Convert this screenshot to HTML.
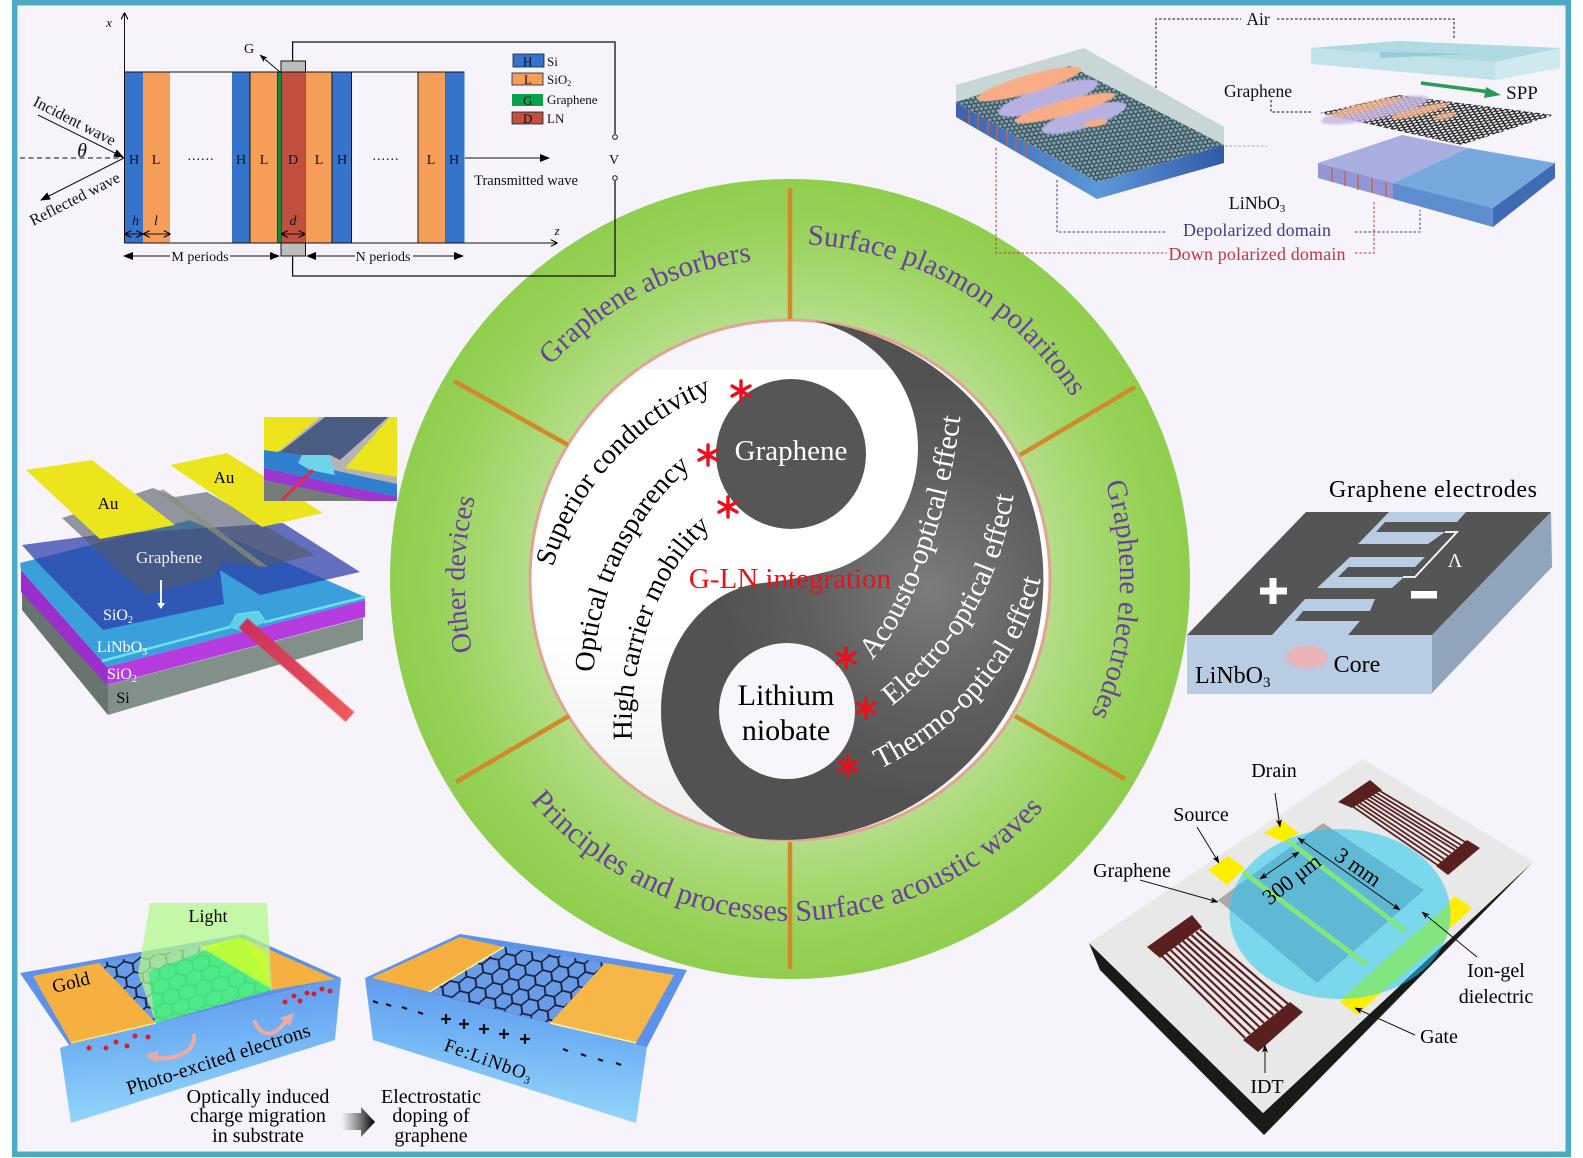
<!DOCTYPE html>
<html><head><meta charset="utf-8"><style>
html,body{margin:0;padding:0;background:#fff}
svg{display:block}
text{font-family:"Liberation Serif","Noto Serif CJK SC",serif}
</style></head><body>
<svg width="1583" height="1158" viewBox="0 0 1583 1158" xmlns="http://www.w3.org/2000/svg">
<defs>
<radialGradient id="ring" gradientUnits="userSpaceOnUse" cx="790" cy="580" r="400"><stop offset=".62" stop-color="#b8df8e"/><stop offset=".88" stop-color="#98d25a"/><stop offset="1" stop-color="#8fce4e"/></radialGradient>
<radialGradient id="dark" gradientUnits="userSpaceOnUse" cx="930" cy="590" r="210"><stop offset="0" stop-color="#7c7c7c"/><stop offset=".6" stop-color="#5e5e5e"/><stop offset="1" stop-color="#525252"/></radialGradient>
<linearGradient id="inner" gradientUnits="userSpaceOnUse" x1="0" y1="321" x2="0" y2="839"><stop offset="0" stop-color="#f7f3fa"/><stop offset=".093" stop-color="#f7f3fa"/><stop offset=".094" stop-color="#fff"/><stop offset=".6" stop-color="#fff"/><stop offset="1" stop-color="#eeeeee"/></linearGradient>
<linearGradient id="face1" x1="0" y1="0" x2=".15" y2="1"><stop offset="0" stop-color="#5d92ea"/><stop offset=".45" stop-color="#6fb0f4"/><stop offset="1" stop-color="#93d6fb"/></linearGradient>
<linearGradient id="face2" x1="1" y1="0" x2=".85" y2="1"><stop offset="0" stop-color="#5d92ea"/><stop offset=".45" stop-color="#6fb0f4"/><stop offset="1" stop-color="#93d6fb"/></linearGradient>
<linearGradient id="blk" x1="0" y1="0" x2="1" y2="0"><stop offset="0" stop-color="#f6f3fa"/><stop offset=".5" stop-color="#888"/><stop offset="1" stop-color="#000"/></linearGradient>
<linearGradient id="beam" gradientUnits="userSpaceOnUse" x1="243" y1="623" x2="353" y2="717"><stop offset="0" stop-color="#c93058"/><stop offset="1" stop-color="#f05a5a"/></linearGradient>
<linearGradient id="bfront" x1="0" y1="0" x2="1" y2="0"><stop offset="0" stop-color="#3e62ae"/><stop offset="1" stop-color="#5b98d8"/></linearGradient>
<linearGradient id="bright" x1="0" y1="0" x2="1" y2="0"><stop offset="0" stop-color="#5f98da"/><stop offset="1" stop-color="#2f5aa6"/></linearGradient>
<pattern id="hexD" width="27" height="15.6" patternUnits="userSpaceOnUse" patternTransform="translate(100 940) rotate(13) skewX(-12) scale(1 1)"><rect width="27" height="15.6" fill="#6a9be6"/><path d="M0,7.8 L4.5,0 H13.5 L18,7.8 L13.5,15.6 H4.5 Z M18,7.8 H27" fill="none" stroke="#131c38" stroke-width="1.7"/></pattern>
<pattern id="hexB" width="8" height="4.6" patternUnits="userSpaceOnUse" patternTransform="rotate(22)"><rect width="8" height="4.6" fill="#7c9ca6"/><path d="M0,2.3 L1.3,0 H4 L5.3,2.3 L4,4.6 H1.3 Z M5.3,2.3 H8" fill="none" stroke="#2f4450" stroke-width="1.1"/></pattern>
<pattern id="hexW" width="7" height="4" patternUnits="userSpaceOnUse" patternTransform="rotate(14) skewX(-35)"><rect width="7" height="4" fill="#e4e4e8"/><path d="M0,2 L1.2,0 H3.5 L4.7,2 L3.5,4 H1.2 Z M4.7,2 H7" fill="none" stroke="#111" stroke-width="1.2"/></pattern>
<marker id="ah" viewBox="0 0 10 8" refX="9" refY="4" markerWidth="10" markerHeight="8" markerUnits="userSpaceOnUse" orient="auto-start-reverse"><path d="M0,0 L10,4 L0,8 Z" fill="#000"/></marker>
<marker id="ao" viewBox="0 0 8 8" refX="7.5" refY="4" markerWidth="7" markerHeight="7" markerUnits="userSpaceOnUse" orient="auto-start-reverse"><path d="M0,0 L8,4 L0,8" fill="none" stroke="#000" stroke-width="1.3"/></marker>
<marker id="as" viewBox="0 0 8 6" refX="7.5" refY="3" markerWidth="8" markerHeight="6" markerUnits="userSpaceOnUse" orient="auto-start-reverse"><path d="M0,0 L8,3 L0,6 L2,3 Z" fill="#000"/></marker>
<filter id="b1"><feGaussianBlur stdDeviation="1"/></filter>
<filter id="b2"><feGaussianBlur stdDeviation=".6"/></filter>
<path id="cwA" d="M 508,417 A 326 326 0 0 1 1072,417" fill="none"/>
<path id="cwG" d="M 512,419.500 A 321 321 0 0 1 1068,419.500" fill="none"/>
<path id="cwS" d="M 499,412 A 336 336 0 0 1 1081,412" fill="none"/>
<path id="cwE" d="M 504.2,415 A 330 330 0 0 1 1075.8,415" fill="none"/>
<path id="ccw" d="M 511,776 A 341 341 0 0 0 1069,776" fill="none"/>
<path id="p1" d="M 553,567 C 575,490 640,420 712,393" fill="none"/>
<path id="p2" d="M 594,672 C 595,590 640,510 688,470" fill="none"/>
<path id="p3" d="M 632,740 C 628,660 660,570 708,530" fill="none"/>
<path id="p4" d="M 872,660 C 910,620 950,520 962,402" fill="none"/>
<path id="p5" d="M 892,706 C 950,660 1005,590 1016,475" fill="none"/>
<path id="p6" d="M 880,769 C 960,730 1030,660 1045,556" fill="none"/>
<g id="ast" stroke="#e8101c" stroke-width="3.4" stroke-linecap="round"><path d="M0,-10 V10 M-9,-5 L9,5 M-9,5 L9,-5"/></g>
<clipPath id="inset"><rect x="264" y="417" width="133" height="84"/></clipPath>
<clipPath id="circ"><ellipse cx="1340" cy="914" rx="110.5" ry="85"/></clipPath>
</defs>

<rect width="1583" height="1158" fill="#fff"/>
<rect x="14.7" y="2.7" width="1553.6" height="1151.6" fill="#f6f3fa" stroke="#4eaac4" stroke-width="5.5"/>

<!-- central ring -->
<circle cx="790" cy="579" r="400" fill="url(#ring)"/>
<circle cx="790" cy="580" r="260" fill="url(#inner)" stroke="#e2a392" stroke-width="3"/>
<path d="M 814,321 A 260 260 0 1 1 752,838 C 700,825 661,775 661,711 C 661,645 705,588 763,583 C 790,580 814,575 830,571 C 880,556 918,510 918,447 C 918,385 875,335 814,321 Z" fill="url(#dark)"/>
<circle cx="791" cy="454" r="75" fill="#565656"/>
<circle cx="787" cy="711" r="68" fill="#f8f5fb"/>
<g stroke="#d08a2a" stroke-width="4.5" fill="none">
<path d="M790,188 V319"/><path d="M790,842 V969"/><path d="M1135,387 L1020,455"/><path d="M454,381 L568,445"/><path d="M456,782 L569,716"/><path d="M1125,779 L1015,716"/>
</g>
<g font-size="29" fill="#6b3f9c">
<g transform="rotate(-27.500 790 580)"><text text-anchor="middle"><textPath href="#cwG" startOffset="50%">Graphene absorbers</textPath></text></g>
<g transform="rotate(30 790 580)"><text text-anchor="middle"><textPath href="#cwS" startOffset="50%">Surface plasmon polaritons</textPath></text></g>
<g transform="rotate(93.500 790 580)"><text text-anchor="middle"><textPath href="#cwE" startOffset="50%">Graphene electrodes</textPath></text></g>
<g transform="rotate(-89 790 580)"><text text-anchor="middle" font-size="28"><textPath href="#cwA" startOffset="50%">Other devices</textPath></text></g>
<g transform="rotate(-24.500 790 580)" font-size="30"><text text-anchor="middle"><textPath href="#ccw" startOffset="50%">Surface acoustic waves</textPath></text></g>
<g transform="rotate(25 790 580)" font-size="30"><text text-anchor="middle"><textPath href="#ccw" startOffset="50%">Principles and processes</textPath></text></g>
</g>
<g font-size="28" fill="#000">
<text><textPath href="#p1">Superior conductivity</textPath></text>
<text><textPath href="#p2">Optical transparency</textPath></text>
<text font-size="27.500"><textPath href="#p3">High carrier mobility</textPath></text>
</g>
<g font-size="29.500" fill="#fff">
<text><textPath href="#p4">Acousto-optical effect</textPath></text>
<text><textPath href="#p5">Electro-optical effect</textPath></text>
<text><textPath href="#p6">Thermo-optical effect</textPath></text>
</g>
<text x="791" y="460" font-size="29" fill="#fff" text-anchor="middle">Graphene</text>
<text x="786" y="705" font-size="30" text-anchor="middle">Lithium</text>
<text x="786" y="740" font-size="30" text-anchor="middle">niobate</text>
<text x="790" y="588" font-size="29" fill="#ee0f1a" text-anchor="middle">G-LN integration</text>
<use href="#ast" x="741" y="391"/><use href="#ast" x="708" y="455"/><use href="#ast" x="728" y="507"/>
<use href="#ast" x="846" y="658"/><use href="#ast" x="866" y="708"/><use href="#ast" x="848" y="766"/>

<!-- Panel A -->
<g>
<g stroke="#111" stroke-width="1">
<rect x="124.500" y="72" width="18.500" height="171" fill="#3674cc" stroke="none"/>
<rect x="143" y="72" width="27" height="171" fill="#f49e5a" stroke="none"/>
<rect x="232" y="72" width="18" height="171" fill="#3674cc" stroke="none"/>
<rect x="250" y="72" width="27.500" height="171" fill="#f49e5a"/>
<rect x="281" y="61" width="24.500" height="195" fill="#bdbdbd"/>
<rect x="281" y="72" width="24.500" height="171" fill="#c25040"/>
<rect x="277.500" y="72" width="3.500" height="171" fill="#0a8a3c" stroke="none"/>
<rect x="305.500" y="72" width="26.500" height="171" fill="#f49e5a" stroke="none"/>
<rect x="332" y="72" width="19.500" height="171" fill="#3674cc"/>
<rect x="418" y="72" width="28" height="171" fill="#f49e5a"/>
<rect x="446" y="72" width="18.500" height="171" fill="#3674cc" stroke="none"/>
</g>
<path d="M124.500,72 H464.500" stroke="#111" stroke-width="1" fill="none"/>
<path d="M124.500,243 V13" stroke="#111" stroke-width="1" fill="none" marker-end="url(#ao)"/>
<path d="M124.500,243 H557" stroke="#111" stroke-width="1" fill="none" marker-end="url(#ao)"/>
<path d="M292.600,61 V42 H615 V134" stroke="#111" stroke-width="1.300" fill="none"/>
<path d="M292.600,256 V276 H615 V181" stroke="#111" stroke-width="1.300" fill="none"/>
<circle cx="615" cy="137" r="2.300" fill="#fff" stroke="#111"/><circle cx="615" cy="178" r="2.300" fill="#fff" stroke="#111"/>
<path d="M20,158 H124" stroke="#111" stroke-dasharray="5 3.500" fill="none"/>
<path d="M38,115 L123,157" stroke="#111" fill="none" marker-end="url(#ah)"/>
<path d="M124,158 L41,200" stroke="#111" fill="none" marker-end="url(#ah)"/>
<path d="M465,158 H549" stroke="#111" fill="none" marker-end="url(#ah)"/>
<path d="M280,72 L260,55" stroke="#111" fill="none" marker-end="url(#as)"/>
<g stroke="#111" fill="none" marker-start="url(#ao)" marker-end="url(#ao)"><path d="M125,234 H142.500"/><path d="M143.500,234 H170"/><path d="M281.500,234 H305"/></g>
<g stroke="#111" fill="none">
<path d="M170,256 H124" marker-end="url(#ah)"/><path d="M230,256 H279" marker-end="url(#ah)"/>
<path d="M355,256 H307" marker-end="url(#ah)"/><path d="M413,256 H463" marker-end="url(#ah)"/>
</g>
<g font-size="14" fill="#111" text-anchor="middle">
<text x="134" y="164">H</text><text x="156" y="164">L</text><text x="241" y="164">H</text><text x="264" y="164">L</text><text x="293" y="164">D</text><text x="319" y="164">L</text><text x="342" y="164">H</text><text x="431" y="164">L</text><text x="454" y="164">H</text>
<text x="201" y="160" letter-spacing="1">......</text><text x="386" y="160" letter-spacing="1">......</text>
<text x="614" y="164">V</text>
<text x="526" y="185" font-size="14.500">Transmitted wave</text>
<text x="200" y="261">M periods</text><text x="383" y="261">N periods</text>
<text x="249" y="53">G</text>
<g font-style="italic"><text x="135.500" y="225">h</text><text x="156" y="225">l</text><text x="293" y="225">d</text><text x="109" y="27" font-size="13">x</text><text x="557" y="235" font-size="13">z</text><text x="82" y="157" font-size="20">θ</text></g>
</g>
<text transform="translate(32 105) rotate(27)" font-size="16" fill="#111">Incident wave</text>
<text transform="translate(33 226) rotate(-27)" font-size="16" fill="#111">Reflected wave</text>
<g stroke="#123" stroke-width=".8">
<rect x="513" y="54" width="31" height="13" fill="#3674cc"/><rect x="512" y="73" width="31" height="12" fill="#f49e5a"/>
<rect x="512" y="94" width="31" height="12" fill="#0aa04c" stroke="none"/><rect x="512" y="112" width="31" height="12" fill="#c25040"/>
</g>
<g font-size="13" fill="#111"><text x="523" y="66">H</text><text x="524" y="84">L</text><text x="523" y="105">G</text><text x="523" y="123">D</text>
<text x="547" y="66">Si</text><text x="547" y="84">SiO<tspan font-size="8" dy="2">2</tspan></text><text x="547" y="104">Graphene</text><text x="547" y="123">LN</text></g>
</g>

<!-- Panel B -->
<g>
<polygon points="956,85 1084,48 1224,127 1224,145 1097,182 956,102" fill="#c8d7d5"/>
<polygon points="956,102 1097,182 1097,199 956,117" fill="url(#bfront)"/>
<polygon points="1097,182 1224,145 1224,163 1097,199" fill="url(#bright)"/>
<polygon points="956,102 1070,66 1224,145 1097,182" fill="url(#hexB)"/>
<g filter="url(#b2)">
<ellipse cx="1048" cy="98" rx="52" ry="11" transform="rotate(-17 1048 98)" fill="#b8b0e0"/>
<ellipse cx="1084" cy="118" rx="44" ry="10" transform="rotate(-17 1084 118)" fill="#b8b0e0"/>
<ellipse cx="1029" cy="84" rx="54" ry="9" transform="rotate(-16 1029 84)" fill="#f8ad86"/>
<ellipse cx="1065" cy="108" rx="52" ry="7.500" transform="rotate(-15 1065 108)" fill="#f8ad86"/>
<ellipse cx="1096" cy="123" rx="12" ry="3.500" transform="rotate(-10 1096 123)" fill="#f8ad86"/>
</g>
<g stroke="#d0603a" stroke-width="1.300" fill="none"><path d="M969,109 V124"/><path d="M978,115 V130"/><path d="M988,120 V135"/><path d="M997,125 V140"/><path d="M1007,131 V146"/><path d="M1016,136 V151"/><path d="M1026,142 V157"/></g>

<polygon points="1311,48 1398,41 1560,48 1560,68 1495,80 1311,64" fill="#c0e2e8"/>
<polygon points="1311,48 1398,41 1560,48 1495,62" fill="#b0dae2"/>
<polygon points="1380,52 1470,54 1380,58" fill="#8fc0cc" opacity=".7"/>
<polygon points="1495,62 1560,48 1560,68 1495,80" fill="#cfeaee"/>
<path d="M1421,83 L1490,92" stroke="#2a9a55" stroke-width="3.500" fill="none"/>
<polygon points="1486,87 1501,95 1484,98" fill="#2a9a55"/>
<polygon points="1320,113 1398,95 1554,115 1461,145" fill="url(#hexW)"/>
<g filter="url(#b1)" opacity=".85">
<ellipse cx="1375" cy="110" rx="55" ry="9" fill="#c8b8e0" transform="rotate(-12 1375 110)"/>
<ellipse cx="1365" cy="107" rx="38" ry="4" fill="#f8b890" transform="rotate(-14 1365 107)"/>
<ellipse cx="1420" cy="111" rx="30" ry="4" fill="#f8b890" transform="rotate(-14 1420 111)"/>
<ellipse cx="1445" cy="116" rx="12" ry="3" fill="#f8b890" transform="rotate(-14 1445 116)"/>
</g>
<polygon points="1318,163 1402,135 1468,148 1393,183" fill="#a9aee0"/>
<polygon points="1468,148 1555,163 1493,208 1393,183" fill="#78a9de"/>
<polygon points="1318,163 1393,183 1393,199 1318,178" fill="#9296d4"/>
<polygon points="1393,183 1493,208 1493,227 1393,199" fill="#5f8ed0"/>
<polygon points="1493,208 1555,163 1555,178 1493,227" fill="#3f6ab4"/>
<g stroke="#d0603a" stroke-width="1.300" fill="none"><path d="M1332,167 V182"/><path d="M1345,171 V186"/><path d="M1358,175 V190"/><path d="M1372,178 V193"/><path d="M1386,182 V197"/></g>
<g fill="none" stroke-width="1" stroke-dasharray="2.500 2">
<path d="M1156,88 V19 H1241 M1277,19 H1454 V38" stroke="#111"/>
<path d="M1271,100 V112 H1313" stroke="#111"/>
<path d="M1225,146 H1267" stroke="#aaa"/>
<path d="M1057,180 V232 H1167 M1355,232 H1420 V210" stroke="#3c3f86"/>
<path d="M996,148 V253 H1167 M1355,253 H1374 V202" stroke="#c5353f"/>
</g>
<g font-size="17.500" fill="#111" text-anchor="middle">
<text x="1258" y="25">Air</text><text x="1258" y="97">Graphene</text><text x="1522" y="99" font-size="19">SPP</text>
<text x="1257" y="209" font-size="18">LiNbO<tspan font-size="11" dy="3">3</tspan></text>
<text x="1257" y="236" font-size="18" fill="#3c3f86" textLength="148">Depolarized domain</text>
<text x="1257" y="260" font-size="18" fill="#c5353f" textLength="177">Down polarized domain</text>
</g>
</g>

<!-- Panel C -->
<g>
<polygon points="22,592 108,685 108,715 22,610" fill="#68746f"/>
<polygon points="108,685 363,618 363,640 108,715" fill="#838f89"/>
<polygon points="21,570 107,667 107,685 21,592" fill="#9a2fcc"/>
<polygon points="107,667 365,600 365,617 107,685" fill="#b53de0"/>
<polygon points="20,563 190,520 365,597 365,600 107,667 21,570" fill="#3aa0dc"/>
<path d="M102,661 L230,627 L237,615 L258,612 L265,622 L365,597" stroke="#6ee0ee" stroke-width="2.500" fill="none"/>
<polygon points="228,627 237,615 258,612 265,622 245,632" fill="#60cfe8"/>
<polygon points="22,545 97,535 283,523 360,572 260,595 220,570 224,604 103,630 37,562" fill="#2a3aa8" opacity=".72"/>
<polygon points="62,518 153,488 175,497 207,492 315,555 260,567 223,562 213,577 145,595" fill="#525a68" opacity=".62"/>
<polygon points="158,492 163,489 268,567 258,566" fill="#8c8e7a" opacity=".7"/>
<polygon points="26,470 92,460 175,525 100,539" fill="#ece41c"/>
<polygon points="170,465 227,453 323,513 262,527" fill="#ece41c"/>
<path d="M243,623 L350,717" stroke="url(#beam)" stroke-width="13" fill="none" filter="url(#b2)"/>
<path d="M161,580 V604" stroke="#f4f4f8" stroke-width="2" fill="none"/><polygon points="157,603 165,603 161,609" fill="#fff"/>
<text x="108" y="509" font-size="17" text-anchor="middle">Au</text>
<text x="224" y="483" font-size="17" text-anchor="middle">Au</text>
<text x="169" y="563" font-size="17" fill="#eef" text-anchor="middle">Graphene</text>
<text x="118" y="620" font-size="16" fill="#fff" text-anchor="middle">SiO<tspan font-size="10" dy="3">2</tspan></text>
<text x="122" y="652" font-size="16" fill="#fff" text-anchor="middle">LiNbO<tspan font-size="10" dy="3">3</tspan></text>
<text x="122" y="679" font-size="16" fill="#fff" text-anchor="middle">SiO<tspan font-size="10" dy="3">2</tspan></text>
<text x="123" y="703" font-size="16" text-anchor="middle">Si</text>
<g clip-path="url(#inset)">
<rect x="264" y="417" width="133" height="84" fill="#b4b4b4"/>
<polygon points="264,480 367,498 380,501 264,501" fill="#767c78"/>
<polygon points="264,468 397,497 397,501 367,501 264,480" fill="#9b36d0"/>
<polygon points="264,450 300,452 333,470 397,484 397,497 264,468" fill="#3080d0"/>
<polygon points="298,463 302,455 330,455 335,475 310,470" fill="#6fd3ea"/>
<polygon points="280,452 325,417 388,417 340,460 330,455 302,455" fill="#4b5d82"/>
<polygon points="264,417 320,417 278,452 264,450" fill="#ece41c"/>
<polygon points="390,417 397,417 397,477 345,468" fill="#ece41c"/>
<path d="M313,470 L282,500" stroke="#d9304f" stroke-width="3" fill="none"/>
</g>
</g>

<!-- Panel D -->
<g>
<polygon points="20,973 243,934 341,978 69,1045" fill="#5d92ea"/>
<polygon points="60,1048 69,1045 341,978 335,1040 71,1123" fill="url(#face1)"/>
<polygon points="99,963 201,947 272,990 156,1023" fill="url(#hexD)"/>
<polygon points="33,976 99,963 156,1023 71,1043" fill="#f5b040"/>
<polygon points="201,947 241,937 335,979 272,990" fill="#f5b040"/>
<path d="M71,1043 L156,1023" stroke="#ffe680" stroke-width="1.500"/>
<path d="M201,947 L272,990" stroke="#fff" stroke-width="1.500"/>
<polygon points="150,903 267,903 272,990 156,1023 138,973" fill="#b4f88c" opacity=".75"/>
<polygon points="148,972 243,936 272,990 156,1023" fill="#18ee78" opacity=".6"/>
<polygon points="201,947 241,937 267,954 270,988" fill="#c8ff30" opacity=".85"/>
<text x="208" y="922" font-size="18" text-anchor="middle">Light</text>
<text transform="translate(54 993) rotate(-14)" font-size="19">Gold</text>
<g fill="#d8202c">
<circle cx="89" cy="1048" r="2.500"/><circle cx="106" cy="1048" r="2.500"/><circle cx="116" cy="1042" r="2.500"/><circle cx="127" cy="1046" r="2.500"/><circle cx="135" cy="1036" r="2.500"/><circle cx="148" cy="1037" r="2.500"/>
<circle cx="285" cy="1002" r="2.500"/><circle cx="294" cy="996" r="2.500"/><circle cx="300" cy="1001" r="2.500"/><circle cx="307" cy="993" r="2.500"/><circle cx="314" cy="994" r="2.500"/><circle cx="322" cy="989" r="2.500"/><circle cx="330" cy="991" r="2.500"/>
</g>
<path d="M194,1034 C196,1050 180,1060 155,1058" stroke="#eeaaa0" stroke-width="4" fill="none"/><polygon points="145,1055 158,1051 157,1063" fill="#eeaaa0"/>
<path d="M254,1020 C260,1035 272,1040 285,1022" stroke="#eeaaa0" stroke-width="4" fill="none"/><polygon points="294,1013 280,1018 290,1026" fill="#eeaaa0"/>
<text transform="translate(129 1095) rotate(-18)" font-size="20" textLength="192">Photo-excited electrons</text>

<polygon points="365,978 460,934 687,970 647,1047 636,1045" fill="#5d92ea"/>
<polygon points="365,978 636,1045 647,1047 636,1123 373,1040" fill="url(#face2)"/>
<polygon points="429,992 504,947 605,963 550,1023" fill="url(#hexD)"/>
<polygon points="371,978 460,937 504,947 429,992" fill="#f5b040"/>
<polygon points="605,963 674,975 636,1043 550,1023" fill="#f7b648"/>
<path d="M429,992 L504,947 M550,1023 L636,1043" stroke="#fff6b0" stroke-width="1.500"/>
<g stroke="#111" stroke-width="2.200" fill="none">
<path d="M373,1001 L378,1003 M386,1004 L391,1006 M402,1007 L407,1009 M418,1012 L423,1014"/>
<path d="M563,1049 L568,1051 M581,1054 L586,1056 M598,1059 L603,1061 M616,1063 L621,1065"/>
<path d="M441,1019 H451 M446,1014 V1024 M459,1024 H469 M464,1019 V1029 M479,1029 H489 M484,1024 V1034 M499,1034 H509 M504,1029 V1039 M520,1039 H530 M525,1034 V1044"/>
</g>
<text transform="translate(443 1050) rotate(20)" font-size="19" textLength="92">Fe:LiNbO<tspan font-size="11" dy="3">3</tspan></text>
<g font-size="20" text-anchor="middle">
<text x="258" y="1103">Optically induced</text><text x="258" y="1122">charge migration</text><text x="258" y="1142">in substrate</text>
<text x="431" y="1103">Electrostatic</text><text x="431" y="1122">doping of</text><text x="431" y="1142">graphene</text>
</g>
<polygon points="342,1113 361,1113 361,1107 375,1122 361,1137 361,1130 342,1130" fill="url(#blk)"/>
</g>

<!-- Panel E -->
<g>
<polygon points="1306,512 1551,512 1432,635 1187,635" fill="#555"/>
<rect x="1187" y="635" width="245" height="59" fill="#b8cce4"/>
<polygon points="1432,635 1551,512 1552,567 1432,693" fill="#90a4bc"/>
<g fill="#b8cce4">
<polygon points="1389,512 1466,512 1457,522 1385,522 1376,532 1445,532 1428,544 1358,544"/>
<polygon points="1350,557 1425,557 1415,567 1348,567 1338,577 1404,577 1392,588 1317,588"/>
<polygon points="1305,599 1375,599 1370,611 1303,611 1295,621 1360,621 1348,635 1272,635"/>
</g>
<path d="M1403,577 H1415 L1457,532 H1445" stroke="#fff" stroke-width="1.800" fill="none"/>
<text x="1455" y="567" font-size="20" fill="#fff" text-anchor="middle">Λ</text>
<path d="M1260,591 H1287 M1273,578 V604" stroke="#fff" stroke-width="7" fill="none"/>
<rect x="1411" y="591" width="26" height="7.500" fill="#fff"/>
<ellipse cx="1307" cy="657" rx="21" ry="11.500" fill="#e8b4b8"/>
<text x="1357" y="672" font-size="24" text-anchor="middle">Core</text>
<text x="1195" y="683" font-size="24">LiNbO<tspan font-size="15" dy="4">3</tspan></text>
<text x="1433" y="497" font-size="24" text-anchor="middle" textLength="208">Graphene electrodes</text>
</g>

<!-- Panel F -->
<g>
<polygon points="1089,943 1263,1113 1533,862 1264,1135 1100,970" fill="#1a1a1a"/>
<polygon points="1363,759 1533,862 1263,1113 1089,943" fill="#e8e8e8"/>
<polygon points="1147,947 1192,915 1202,927 1160,958" fill="#5a2020"/>
<polygon points="1243,1040 1290,1002 1303,1012 1258,1052" fill="#5a2020"/>
<g stroke="#5a2020" stroke-width="2.200" fill="none">
<path d="M1162,956 L1245,1038"/><path d="M1166,953 L1250,1034"/><path d="M1170.500,950 L1255,1030.500"/><path d="M1175,947 L1259.500,1027"/><path d="M1179,944 L1264,1023"/><path d="M1183,941 L1269,1019"/><path d="M1187,938 L1273.500,1015"/><path d="M1191.500,935 L1278,1011.500"/><path d="M1196,932 L1283,1008"/><path d="M1200,929 L1288,1004"/>
</g>
<polygon points="1338,802 1370,780 1382,790 1352,808" fill="#5a2020"/>
<polygon points="1436,866 1467,840 1480,848 1448,875" fill="#5a2020"/>
<g stroke="#5a2020" stroke-width="1.800" fill="none">
<path d="M1353.500,807 L1437.500,865"/><path d="M1357,805 L1441,862"/><path d="M1360,803 L1444,859"/><path d="M1363.500,801 L1448,856"/><path d="M1367,799 L1451,853"/><path d="M1370,797 L1455,850"/><path d="M1373,795 L1458,848"/><path d="M1376.500,793 L1461,845"/><path d="M1380,791 L1465,842"/>
</g>
<polygon points="1218,900 1323,823 1424,890 1317,983" fill="#a9a9a9"/>
<polygon points="1340,1002 1455,896 1472,908 1357,1015" fill="#fdee00"/>
<ellipse cx="1340" cy="914" rx="110.500" ry="85" fill="#7bd8ec"/>
<g clip-path="url(#circ)">
<polygon points="1218,900 1323,823 1424,890 1317,983" fill="#5fb8d4"/>
<polygon points="1533,862 1400,985 1350,1020 1460,1010" fill="#1a7a95"/>
<polygon points="1341,999 1374,998 1448,937 1450,903" fill="#82e57f"/>
</g>
<polygon points="1208,870 1228,856 1245,868 1227,885" fill="#fdee00"/>
<polygon points="1264,833 1283,821 1299,833 1283,842" fill="#fdee00"/>
<path d="M1243,872 L1367,965" stroke="#82e57f" stroke-width="5" fill="none"/>
<path d="M1287,840 L1405,931" stroke="#82e57f" stroke-width="5" fill="none"/>
<g stroke="#111" stroke-width="1" fill="none">
<path d="M1275,793 L1280,827" marker-end="url(#as)"/><path d="M1197,827 L1219,863" marker-end="url(#as)"/><path d="M1140,880 L1218,902" marker-end="url(#as)"/><path d="M1477,957 L1422,912" marker-end="url(#as)"/><path d="M1415,1035 L1355,1008" marker-end="url(#as)"/><path d="M1265,1073 V1045" marker-end="url(#as)"/>
<path d="M1298,838 L1400,910" marker-start="url(#as)" marker-end="url(#as)"/><path d="M1260,879 L1299,852" marker-start="url(#as)" marker-end="url(#as)"/>
</g>
<g font-size="20" text-anchor="middle">
<text x="1274" y="777">Drain</text><text x="1201" y="821">Source</text><text x="1132" y="877">Graphene</text><text x="1496" y="977">Ion-gel</text><text x="1496" y="1003">dielectric</text><text x="1439" y="1043">Gate</text><text x="1267" y="1093">IDT</text>
<text transform="translate(1354 873) rotate(35)" font-size="22">3 mm</text>
<text transform="translate(1296 885) rotate(-38)" font-size="22">300 μm</text>
</g>
</g>
</svg>
</body></html>
